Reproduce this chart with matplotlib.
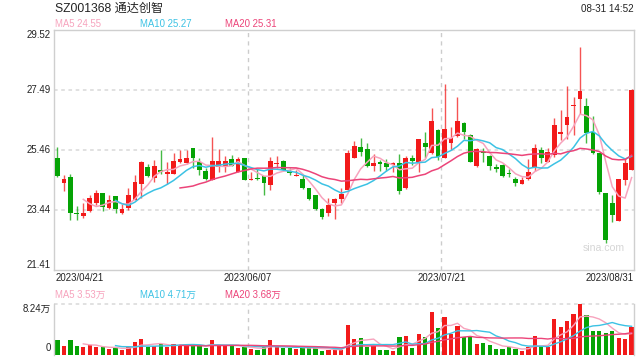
import matplotlib
matplotlib.use("Agg")
import matplotlib.pyplot as plt
import numpy as np
import pandas as pd

FAM = ["Liberation Sans", "Noto Sans CJK SC", "DejaVu Sans"]
plt.rcParams["font.family"] = FAM

# daily K-line, 2023/04/21 .. 2023/08/31 (90 trading days)
opens = [25.18, 24.36, 24.54, 23.33, 23.23, 23.39, 23.67, 24.01, 23.52, 23.90,
         23.33, 23.49, 23.78, 24.31, 24.88, 24.53, 24.80, 24.67, 24.65, 25.05,
         25.01, 25.52, 25.07, 24.76, 24.45, 24.89, 24.94, 25.15, 24.73, 25.18,
         24.45, 24.52, 24.57, 24.28, 24.98, 25.11, 24.75, 24.60, 24.50, 24.17,
         23.93, 23.46, 23.32, 23.69, 23.80, 24.13, 25.21, 25.55, 25.49, 24.92,
         25.06, 25.03, 24.97, 25.01, 24.17, 25.18, 25.07, 25.69, 25.35, 26.13,
         25.18, 25.69, 25.94, 26.39, 25.97, 24.92, 25.38, 25.26, 24.89, 24.96,
         24.67, 24.48, 24.31, 24.48, 24.90, 25.46, 25.07, 25.30, 26.01, 26.31,
         26.94, 27.19, 26.96, 26.08, 25.35, 24.00, 23.66, 23.06, 24.45, 24.79]
highs = [25.55, 24.61, 24.65, 23.58, 23.68, 23.94, 24.13, 24.01, 23.94, 23.90,
         23.64, 24.17, 24.62, 25.09, 24.98, 25.14, 25.46, 25.07, 25.38, 25.45,
         25.48, 25.52, 25.18, 24.84, 25.89, 25.49, 25.26, 25.29, 25.24, 25.18,
         24.71, 24.81, 24.57, 25.24, 25.27, 25.13, 24.86, 24.80, 24.62, 24.19,
         23.96, 23.49, 23.85, 23.85, 24.17, 25.46, 25.78, 25.88, 25.69, 25.34,
         25.12, 25.16, 25.07, 25.33, 25.25, 25.28, 25.82, 26.08, 26.87, 26.19,
         27.69, 26.24, 27.24, 26.42, 26.00, 25.52, 25.52, 25.29, 24.98, 24.98,
         24.81, 24.56, 24.56, 25.15, 25.66, 25.56, 25.52, 26.53, 26.81, 27.64,
         27.26, 28.93, 27.21, 26.61, 25.35, 24.00, 23.94, 24.47, 25.18, 27.52]
lows = [24.56, 24.09, 23.10, 23.10, 23.18, 23.37, 23.60, 23.40, 23.47, 23.33,
        23.31, 23.43, 23.76, 23.83, 24.56, 24.37, 24.65, 24.32, 24.64, 25.04,
        25.00, 24.84, 24.62, 24.45, 24.45, 24.73, 24.73, 24.92, 24.71, 24.44,
        24.45, 24.45, 23.94, 24.11, 24.86, 24.76, 24.62, 24.59, 24.14, 23.79,
        23.43, 23.15, 23.23, 23.14, 23.66, 24.11, 25.18, 25.26, 24.90, 24.76,
        24.75, 24.75, 24.73, 23.98, 24.14, 24.96, 24.73, 25.18, 25.32, 25.12,
        25.18, 25.46, 25.89, 25.82, 25.05, 24.90, 25.07, 24.79, 24.71, 24.56,
        24.56, 24.25, 24.30, 24.45, 24.75, 25.04, 25.05, 25.24, 25.80, 25.85,
        25.98, 26.67, 25.69, 25.32, 23.98, 22.33, 23.02, 23.05, 24.28, 24.79]
closes = [24.58, 24.47, 23.32, 23.30, 23.32, 23.83, 24.01, 23.54, 23.77, 23.47,
          23.46, 23.93, 24.40, 25.05, 24.58, 24.91, 24.73, 24.72, 25.11, 25.16,
          25.18, 25.18, 24.79, 24.47, 25.08, 25.08, 25.11, 24.93, 25.15, 24.45,
          24.48, 24.49, 24.34, 25.11, 25.01, 24.79, 24.68, 24.62, 24.17, 23.81,
          23.46, 23.21, 23.59, 23.80, 23.98, 25.35, 25.61, 25.40, 24.92, 25.01,
          24.99, 24.89, 25.01, 24.08, 25.18, 25.09, 25.82, 25.56, 26.44, 25.24,
          26.17, 25.88, 26.46, 26.06, 25.07, 25.49, 25.35, 24.92, 24.82, 24.58,
          24.65, 24.34, 24.44, 24.73, 25.52, 25.20, 25.40, 26.30, 26.06, 26.59,
          26.97, 27.46, 26.05, 25.35, 24.03, 22.42, 23.27, 24.47, 25.01, 27.49]
# volume, unit 万手
volumes = [2.44, 1.46, 2.44, 1.46, 1.25, 1.63, 1.25, 1.25, 0.92, 1.14,
           0.81, 1.36, 2.11, 2.60, 1.36, 1.46, 1.79, 1.25, 1.79, 1.63,
           1.46, 1.63, 1.63, 1.19, 2.44, 1.46, 1.46, 1.46, 1.19, 1.25,
           0.92, 0.81, 1.25, 2.44, 1.36, 1.19, 1.08, 0.92, 1.46, 1.08,
           1.08, 0.70, 0.81, 0.81, 0.81, 4.88, 2.60, 2.76, 1.25, 1.46,
           0.81, 0.81, 0.70, 2.93, 3.09, 1.19, 3.41, 2.93, 7.05, 4.39,
           6.18, 3.47, 4.72, 2.87, 2.98, 1.79, 1.95, 1.63, 0.98, 0.98,
           1.25, 0.92, 0.70, 1.25, 3.09, 1.46, 1.36, 5.85, 4.61, 5.58,
           6.67, 8.24, 6.50, 3.90, 3.90, 3.63, 3.90, 2.76, 2.60, 4.55]

date_labels = ["2023/04/21", "2023/06/07", "2023/07/21", "2023/08/31"]
date_idx = [0, 30, 60, 89]
price_ticks = ["29.52", "27.49", "25.46", "23.44", "21.41"]
ma_text = ["MA5 24.55", "MA10 25.27", "MA20 25.31"]
vol_ma_text = ["MA5 3.53万", "MA10 4.71万", "MA20 3.68万"]
vol_max_label = "8.24万"

RED = "#f21a1a"
GREEN = "#05a305"
MA_COLORS = ["#f7a3bd", "#3cc2e4", "#ec4479"]
GRID = "#dedede"
BORDER = "#cfcfcf"
TXT = "#222222"

df = pd.DataFrame({"open": opens, "high": highs, "low": lows,
                   "close": closes, "vol": volumes})
n = len(df)
x = np.arange(n)
up = df.close >= df.open
colors = np.where(up, RED, GREEN)

fig = plt.figure(figsize=(6.4, 3.6), dpi=100)
W, H = 640.0, 360.0
ax = fig.add_axes([54 / W, 90 / H, 580 / W, 240 / H])
axv = fig.add_axes([54 / W, 5 / H, 580 / W, 50.7 / H])

ymin, ymax = float(price_ticks[-1]), float(price_ticks[0])
for a in (ax, axv):
    a.set_xlim(-0.54, n - 1 + 0.37)
    a.set_xticks([])
    a.set_yticks([])
    for s in a.spines.values():
        s.set_color(BORDER)
        s.set_linewidth(1)
ax.set_ylim(ymin, ymax)

# grid
for t in price_ticks[1:-1]:
    ax.axhline(float(t), color=GRID, lw=1.3, ls=(0, (2, 2)), zorder=0)
for i in date_idx[1:-1]:
    for a in (ax, axv):
        a.axvline(i - 0.5, color="#cccccc", lw=1, ls=(0, (3, 3)), zorder=0)

# candles
ax.vlines(x, df.low, df.high, colors=colors, lw=1, alpha=0.75, zorder=2)
body = np.maximum((df.close - df.open).abs(), 0.035)
ax.bar(x, body, bottom=np.minimum(df.open, df.close), width=0.74,
       color=colors, linewidth=0, zorder=3)

for w, c in zip([5, 10, 20], MA_COLORS):
    ax.plot(x, df.close.rolling(w).mean(), color=c, lw=1.1, zorder=4)

# volume
axv.bar(x, df.vol, width=0.66, color=colors, linewidth=0, zorder=2)
for w, c in zip([5, 10, 20], MA_COLORS):
    axv.plot(x, df.vol.rolling(w).mean(), color=c, lw=1.0, zorder=3)
vmax = float(vol_max_label.rstrip("万"))
axv.set_ylim(0, vmax)
axv.spines["top"].set_visible(False)
axv.spines["bottom"].set_visible(False)
axv.axhline(vmax, color=GRID, lw=1.3, ls=(0, (2, 2)), zorder=0, clip_on=False)

# texts
fig.text(55 / W, 1 - 8.5 / H, "SZ001368 通达创智", fontsize=8.7, color=TXT,
         va="center", ha="left")
fig.text(634 / W, 1 - 8.5 / H, "08-31 14:52", fontsize=7.1, color=TXT,
         va="center", ha="right")
for t, c, px in zip(ma_text, MA_COLORS, [55, 140, 225]):
    fig.text(px / W, 1 - 24 / H, t, fontsize=6.9, color=c, va="center")
for t, c, px in zip(vol_ma_text, MA_COLORS, [55, 140, 225]):
    fig.text(px / W, 1 - 295 / H, t, fontsize=6.9, color=c, va="center")

ytr = ax.get_yaxis_transform()
for k, t in enumerate(price_ticks):
    va = "top" if k == 0 else ("bottom" if k == len(price_ticks) - 1 else "center")
    ax.text(-0.006, float(t), t, transform=ytr, ha="right", va=va,
            fontsize=6.9, color=TXT)
vtr = axv.get_yaxis_transform()
axv.text(-0.006, vmax, vol_max_label, transform=vtr, ha="right", va="top",
         fontsize=6.9, color=TXT)
axv.text(-0.006, 0.3, "0", transform=vtr, ha="right", va="bottom",
         fontsize=6.9, color=TXT)

xtr = ax.get_xaxis_transform()
for k, (lab, i) in enumerate(zip(date_labels, date_idx)):
    if k == 0:
        ax.text(0.002, -0.034, lab, transform=ax.transAxes, ha="left",
                va="center", fontsize=6.9, color=TXT)
    elif k == len(date_labels) - 1:
        ax.text(1.0, -0.034, lab, transform=ax.transAxes, ha="right",
                va="center", fontsize=6.9, color=TXT)
    else:
        ax.text(i - 0.5, -0.034, lab, transform=xtr, ha="center",
                va="center", fontsize=6.9, color=TXT)

ax.text(0.948, 0.09, "sina.com", transform=ax.transAxes, ha="center",
        va="center", fontsize=7.6, color="#d6d6d6", zorder=1)

fig.savefig("out.png", dpi=100)
